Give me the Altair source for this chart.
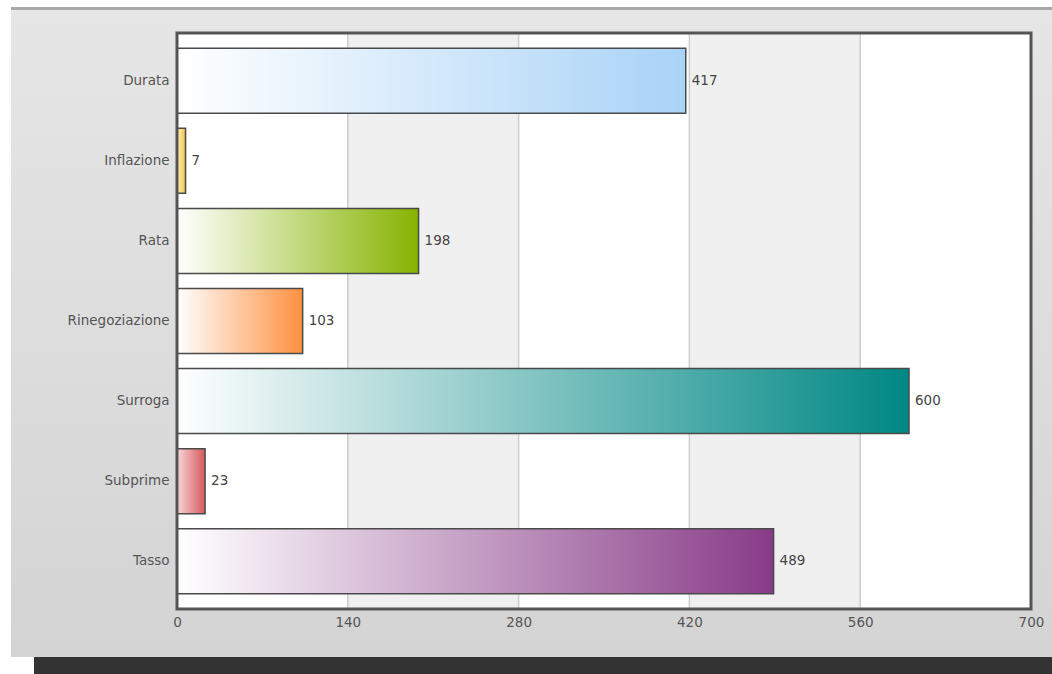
import altair as alt
import pandas as pd

# Data
categories = ["Durata", "Inflazione", "Rata", "Rinegoziazione", "Surroga", "Subprime", "Tasso"]
values = [417, 7, 198, 103, 600, 23, 489]
start_colors = ["#ffffff", "#fff0b8", "#ffffff", "#ffffff", "#ffffff", "#f8d8d8", "#ffffff"]
end_colors = ["#a9d3f7", "#f2c44a", "#86b300", "#ff9040", "#008784", "#d6585c", "#883c88"]
ticks = [0, 140, 280, 420, 560, 700]
band_starts = [140, 420]
band_ends = [280, 560]

W, H = 854, 576
FONT = "DejaVu Sans"
FS = 13.5

df = pd.DataFrame({"cat": categories, "val": values})
x_scale = alt.Scale(domain=[0, 700], nice=False, zero=True)
y_scale = alt.Scale(domain=categories, paddingInner=0.1875, paddingOuter=0.19)

# Panel background, top rule and footer strip around the plot
panel = alt.Chart(pd.DataFrame({"k": [0]})).mark_rect(
    color=alt.Gradient(gradient="linear", x1=0, x2=0, y1=0, y2=1,
                       stops=[alt.GradientStop(color="#e6e6e6", offset=0),
                              alt.GradientStop(color="#d4d4d4", offset=1)])
).encode(x=alt.value(-166), x2=alt.value(875), y=alt.value(-25), y2=alt.value(624))

top_rule = alt.Chart(pd.DataFrame({"k": [0]})).mark_rect(color="#a9a9a9").encode(
    x=alt.value(-166), x2=alt.value(875), y=alt.value(-26), y2=alt.value(-23))

footer = alt.Chart(pd.DataFrame({"k": [0]})).mark_rect(color="#333333").encode(
    x=alt.value(-143), x2=alt.value(875), y=alt.value(624), y2=alt.value(641))

plot_bg = alt.Chart(pd.DataFrame({"k": [0]})).mark_rect(color="#ffffff").encode(
    x=alt.value(0), x2=alt.value(W), y=alt.value(0), y2=alt.value(H))

bands = alt.Chart(pd.DataFrame({"a": band_starts, "b": band_ends})).mark_rect(
    color="#f0f0f0").encode(
    x=alt.X("a:Q", scale=x_scale), x2="b:Q", y=alt.value(0), y2=alt.value(H))

grid = alt.Chart(pd.DataFrame({"t": ticks[1:-1]})).mark_rule(
    color="#cccccc", strokeWidth=1.5).encode(
    x=alt.X("t:Q", scale=x_scale), y=alt.value(0), y2=alt.value(H))

# One gradient-filled bar layer per category
bar_layers = []
for cat, c0, c1 in zip(categories, start_colors, end_colors):
    grad = alt.Gradient(gradient="linear", x1=0, x2=1, y1=0, y2=0,
                        stops=[alt.GradientStop(color=c0, offset=0),
                               alt.GradientStop(color=c1, offset=1)])
    bar_layers.append(
        alt.Chart(df).transform_filter(alt.datum.cat == cat).mark_bar(
            color=grad, stroke="#4a4a4a", strokeWidth=1.5
        ).encode(
            x=alt.X("val:Q", scale=x_scale,
                    axis=alt.Axis(values=ticks, title=None, grid=False, zindex=1,
                                  labelFont=FONT, labelFontSize=FS, labelColor="#555555",
                                  labelPadding=6, labelFlush=False, ticks=False, domain=False)),
            y=alt.Y("cat:N", scale=y_scale, sort=categories,
                    axis=alt.Axis(title=None, grid=False, zindex=1, ticks=False, domain=False,
                                  labelFont=FONT, labelFontSize=FS, labelColor="#555555",
                                  labelPadding=8)),
        )
    )

labels = alt.Chart(df).mark_text(
    align="left", baseline="middle", dx=6, font=FONT, fontSize=FS, color="#444444"
).encode(
    x=alt.X("val:Q", scale=x_scale),
    y=alt.Y("cat:N", scale=y_scale, sort=categories),
    text="val:Q",
)

frame = alt.Chart(pd.DataFrame({"k": [0]})).mark_rect(
    fill=None, fillOpacity=0, stroke="#555555", strokeWidth=3
).encode(x=alt.value(0), x2=alt.value(W), y=alt.value(0), y2=alt.value(H))

chart = alt.layer(
    panel, top_rule, footer, plot_bg, bands, grid, *bar_layers, labels, frame
).properties(
    width=W, height=H,
    padding={"left": 177, "top": 33, "right": 21, "bottom": 65},
    autosize=alt.AutoSizeParams(type="none"),
    background="#ffffff",
).configure_view(stroke=None)

chart.save("out.html", embed_options={"renderer": "svg", "actions": False})
